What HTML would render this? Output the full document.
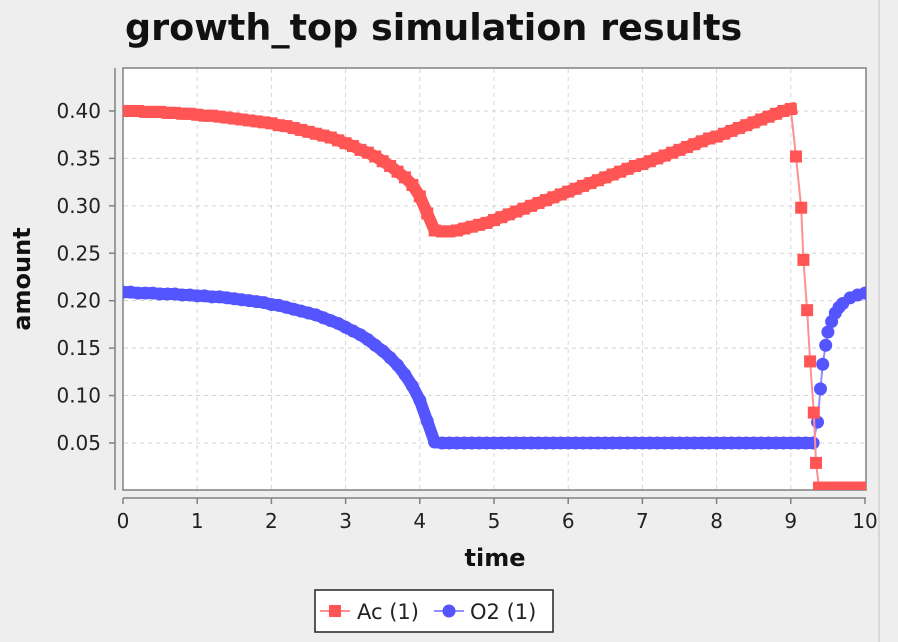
<!DOCTYPE html>
<html><head><meta charset="utf-8"><style>
body{margin:0;background:#eeeeee;}
svg{display:block;font-family:"DejaVu Sans","Liberation Sans",sans-serif;}
</style></head><body>
<svg id="c" width="898" height="642">
<rect x="0" y="0" width="898" height="642" fill="#eeeeee"/>
<line x1="879" y1="0" x2="879" y2="642" stroke="#d8d8d8" stroke-width="2"/>
<text x="125" y="40" font-size="36.5" font-weight="bold" fill="#111">growth_top simulation results</text>
<rect x="123" y="68" width="743" height="422" fill="#ffffff" stroke="#808080" stroke-width="1.5"/>
<g id="grid"></g>
<g id="axes"></g>
<g id="series"></g>
<text x="495" y="566" font-size="24" font-weight="bold" text-anchor="middle" fill="#111">time</text>
<text transform="translate(30,279) rotate(-90)" font-size="24" font-weight="bold" text-anchor="middle" fill="#111">amount</text>
<g>
<rect x="315" y="590" width="238" height="42" fill="#ffffff" stroke="#222" stroke-width="1.5"/>
<g>
<line x1="320" y1="611" x2="350" y2="611" stroke="#ff9090" stroke-width="2"/>
<rect x="329" y="605" width="12" height="12" fill="#ff5555"/>
<text x="357" y="619" font-size="21" fill="#222">Ac (1)</text>
</g>
<g>
<line x1="434" y1="611" x2="464" y2="611" stroke="#9090ff" stroke-width="2"/>
<circle cx="449" cy="611" r="6.5" fill="#5555ff"/>
<text x="470" y="619" font-size="21" fill="#222">O2 (1)</text>
</g>
</g>
</svg>
<script>
const xTicks=[0,1,2,3,4,5,6,7,8,9,10];
const yTicks=[0.05,0.10,0.15,0.20,0.25,0.30,0.35,0.40];
const yTickLabels=["0.05","0.10","0.15","0.20","0.25","0.30","0.35","0.40"];
const acDense=[.400,.400,.400,.399,.399,.399,.398,.398,.397,.397,
.396,.395,.395,.394,.393,.392,.391,.390,.389,.388,
.387,.385,.384,.382,.380,.378,.376,.374,.372,.369,
.366,.363,.359,.356,.352,.347,.342,.336,.330,.322,
.310,.292,.274,.273,.273,.274,.276,.278,.280,.282,
.285,.288,.291,.294,.297,.300,.303,.306,.309,.312,
.315,.318,.321,.324,.327,.330,.333,.336,.339,.342,
.344,.347,.350,.353,.356,.359,.362,.365,.368,.371,
.373,.376,.379,.382,.385,.388,.391,.394,.397,.400,.402];
const acTailTime=[9.07,9.14,9.17,9.22,9.26,9.31,9.34,9.38,9.5,9.6,9.7,9.8,9.9,10];
const acTailValue=[.352,.298,.243,.190,.136,.082,.029,.003,.003,.003,.003,.003,.003,.003];
const o2Dense=[.209,.209,.208,.208,.208,.207,.207,.207,.206,.206,
.205,.205,.204,.204,.203,.202,.201,.200,.199,.198,
.196,.195,.193,.191,.189,.187,.185,.182,.179,.176,
.172,.168,.164,.159,.153,.147,.140,.132,.122,.110,
.095,.073,.051,.050,.050,.050,.050,.050,.050,.050,
.050,.050,.050,.050,.050,.050,.050,.050,.050,.050,
.050,.050,.050,.050,.050,.050,.050,.050,.050,.050,
.050,.050,.050,.050,.050,.050,.050,.050,.050,.050,
.050,.050,.050,.050,.050,.050,.050,.050,.050,.050,
.050,.050,.050,.050];
const o2TailTime=[9.36,9.4,9.43,9.47,9.5,9.55,9.6,9.65,9.7,9.8,9.9,10];
const o2TailValue=[.072,.107,.133,.153,.167,.178,.187,.193,.197,.203,.206,.208];
const denseStep=0.1;

const X0=123,X1=865,Y0=490.4,YS=948.6;
const xs=t=>X0+(X1-X0)*t/10;
const ys=v=>Y0-v*YS;
const NS="http://www.w3.org/2000/svg";
function mk(tag,attrs,parent){const e=document.createElementNS(NS,tag);for(const k in attrs)e.setAttribute(k,attrs[k]);parent.appendChild(e);return e;}
const grid=document.getElementById('grid'),axes=document.getElementById('axes'),ser=document.getElementById('series');
xTicks.forEach(t=>{
 if(t>0&&t<10){const g=mk('line',{x1:xs(t),x2:xs(t),y1:69,y2:489,stroke:'#d4d4d4','stroke-dasharray':'4,4'},grid);
 
 }
 const tk=mk('line',{x1:xs(t),x2:xs(t),y1:498,y2:504,stroke:'#808080','stroke-width':1.5},axes);
 
 
 const lb=mk('text',{x:xs(t),y:528,'font-size':20,'text-anchor':'middle',fill:'#222'},axes);lb.textContent=t;
 
 
});
yTicks.forEach((v,i)=>{
 const g=mk('line',{x1:124,x2:865,y1:ys(v),y2:ys(v),stroke:'#d4d4d4','stroke-dasharray':'4,4'},grid);
 
 
 const tk=mk('line',{x1:109,x2:115,y1:ys(v),y2:ys(v),stroke:'#808080','stroke-width':1.5},axes);
 
 
 const lb=mk('text',{x:101,y:ys(v)+7,'font-size':20,'text-anchor':'end',fill:'#222'},axes);lb.textContent=yTickLabels[i];
 
 
});
const ya=mk('line',{x1:115,x2:115,y1:68,y2:490,stroke:'#808080','stroke-width':1.5},axes);


const xa=mk('line',{x1:123,x2:866,y1:498,y2:498,stroke:'#808080','stroke-width':1.5},axes);



function pts(dense,tt,tv){const p=dense.map((v,i)=>[i*denseStep,v]);tt.forEach((t,i)=>p.push([t,tv[i]]));return p;}
function draw(dense,p,line,fill,shape,name){
 const g=mk('g',{},ser);
 
 
 const pl=mk('polyline',{points:p.map(q=>xs(q[0])+','+ys(q[1])).join(' '),fill:'none',stroke:line,'stroke-width':2},g);
 
 
 const band=mk('polyline',{points:dense.map((v,i)=>xs(i*denseStep)+','+ys(v)).join(' '),fill:'none',stroke:fill,'stroke-width':12,'stroke-linejoin':shape==='sq'?'miter':'round','stroke-linecap':shape==='sq'?'square':'round'},g);
 
 
 p.forEach(q=>{let m;
  if(shape==='sq')m=mk('rect',{x:xs(q[0])-6,y:ys(q[1])-6,width:12,height:12,fill:fill},g);
  else m=mk('circle',{cx:xs(q[0]),cy:ys(q[1]),r:6.5,fill:fill},g);
  
  
 });
}
const clip=mk('clipPath',{id:'cp'},document.getElementById('c'));
mk('rect',{x:123,y:68,width:743,height:422},clip);
ser.setAttribute('clip-path','url(#cp)');
draw(o2Dense,pts(o2Dense,o2TailTime,o2TailValue),'#9090ff','#5555ff','ci','series-o2');
draw(acDense,pts(acDense,acTailTime,acTailValue),'#ff9090','#ff5555','sq','series-ac');
</script>
</body></html>
